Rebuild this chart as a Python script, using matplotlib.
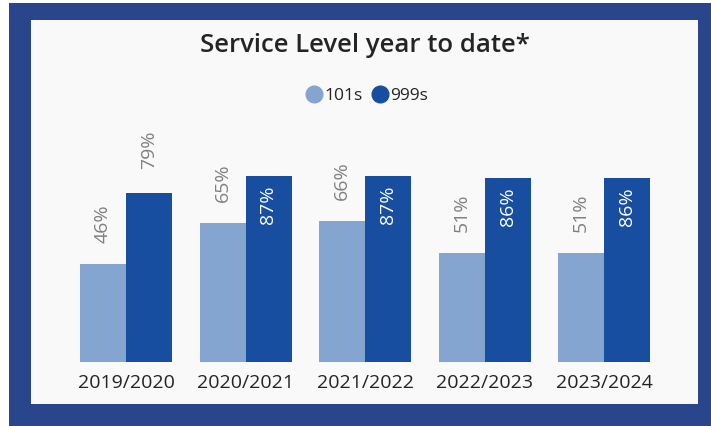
import numpy as np
import matplotlib.pyplot as plt
from matplotlib.patches import Rectangle
from matplotlib.lines import Line2D

years = ['2019/2020', '2020/2021', '2021/2022', '2022/2023', '2023/2024']
calls_101 = [46, 65, 66, 51, 51]
calls_999 = [79, 87, 87, 86, 86]

light = '#84A5CF'
dark = '#174EA0'
frame = '#29458C'
panel = '#F9F9F9'

plt.rcParams['font.family'] = ['Open Sans', 'DejaVu Sans']

W, H = 711, 426
fig = plt.figure(figsize=(W / 100, H / 100), dpi=100)
fig.patch.set_facecolor('white')

def px_rect(x0, y0, x1, y1, color):
    fig.add_artist(Rectangle((x0 / W, 1 - y1 / H), (x1 - x0) / W, (y1 - y0) / H,
                             transform=fig.transFigure, facecolor=color,
                             edgecolor='none', zorder=-10))

px_rect(9, 3, 711, 426, frame)
px_rect(31, 20, 698, 404, panel)

# axes placed over the inner panel
ax = fig.add_axes([31 / W, (H - 362) / H, (698 - 31) / W, 214 / H])
ax.set_facecolor('none')
ax.set_xlim((31 - 126) / 119.5, (698 - 126) / 119.5)
ax.set_ylim(0, 100)

x = np.arange(len(years))
w = 46 / 119.5
b1 = ax.bar(x - w / 2, calls_101, w, color=light, edgecolor='none')
b2 = ax.bar(x + w / 2, calls_999, w, color=dark, edgecolor='none')

for xi, v in zip(x - w / 2, calls_101):
    ax.annotate(f'{v}%', (xi, v), xytext=(0, 15), textcoords='offset points',
                rotation=90, ha='center', va='bottom', fontsize=14, color='#808080')
for xi, v in zip(x + w / 2, calls_999):
    if v > 80:
        ax.annotate(f'{v}%', (xi, v), xytext=(0, -7), textcoords='offset points',
                    rotation=90, ha='center', va='top', fontsize=14, color='white')
    else:
        ax.annotate(f'{v}%', (xi, v), xytext=(0, 17), textcoords='offset points',
                    rotation=90, ha='center', va='bottom', fontsize=14, color='#808080')

ax.set_xticks(x)
ax.set_xticklabels(years, fontsize=14, color='#252423')
ax.tick_params(axis='x', length=0, pad=9)
ax.set_yticks([])
for s in ax.spines.values():
    s.set_visible(False)

fig.text(365 / W, 1 - 45 / H, 'Service Level year to date*', ha='center', va='center',
         fontsize=18.5, fontweight='semibold', color='#252423')

handles = [Line2D([], [], marker='o', linestyle='none', markersize=12, color=light),
           Line2D([], [], marker='o', linestyle='none', markersize=12, color=dark)]
fig.legend(handles, ['101s', '999s'], loc='center', bbox_to_anchor=(366 / W, 1 - 96 / H),
           ncol=2, frameon=False, fontsize=12.5, handletextpad=0.0, columnspacing=0.4,
           handlelength=1.2, labelcolor='#252423')

fig.savefig('out.png', dpi=100)
